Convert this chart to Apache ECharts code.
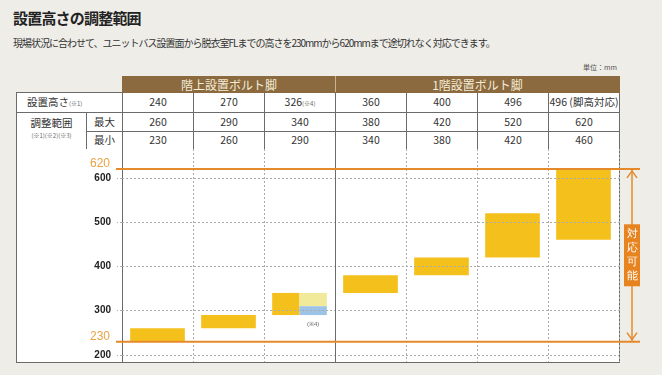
<!DOCTYPE html>
<html>
<head>
<meta charset="utf-8">
<script src="https://cdn.jsdelivr.net/npm/echarts@6/dist/echarts.min.js"></script>
<style>
    body { margin: 0; background: #eeede8; font-family: "Noto Sans CJK JP", sans-serif; color: #333; }
    #wrap { position: relative; width: 662px; height: 375px; overflow: hidden; }
    h1 { position: absolute; left: 13px; top: 10px; margin: 0; font-size: 15px; line-height: 1; letter-spacing: -0.8px; color: #222; }
    .lead { position: absolute; left: 13px; top: 38px; font-size: 10px; line-height: 1; letter-spacing: -1px; color: #333; white-space: nowrap; }
    .unit { position: absolute; right: 45px; top: 64px; font-size: 7px; line-height: 1; color: #555; }
    table { position: absolute; left: 16px; top: 76px; border-collapse: collapse; table-layout: fixed; font-size: 10.5px; }
    td { border: 1px solid #6b6b6b; background: #fff; text-align: center; padding: 0; line-height: 1; white-space: nowrap; }
    td.blank { border: none; background: none; }
    td.grp { background: #8a6a3e; color: #f5ecd8; font-size: 12px; border-color: #8a6a3e; border-right: 1px solid #c9b392; }
    td.grp:last-child { border-right-color: #8a6a3e; }
    td.rowhead { text-align: left; padding-left: 10px; }
    td.range { line-height: 1.05; vertical-align: top; padding-top: 4px; }
    small { font-size: 6px; color: #666; }
    #plotbg { position: absolute; left: 16px; top: 149px; width: 602px; height: 213px; background: #fff; border: 1px solid #6b6b6b; border-top: none; }
    #main { position: absolute; left: 0; top: 149px; width: 662px; height: 226px; }
</style>
</head>
<body>
<div id="wrap">
    <h1>設置高さの調整範囲</h1>
    <div class="lead">現場状況に合わせて、ユニットバス設置面から脱衣室FLまでの高さを230mmから620mmまで途切れなく対応できます。</div>
    <div class="unit">単位：mm</div>
    <table id="spec"></table>
    <div id="plotbg"></div>
    <div id="main"></div>
</div>
<script type="text/javascript">
    // 表と図のデータ
    var groups = ['階上設置ボルト脚', '1階設置ボルト脚'];
    var groupSizes = [3, 4];
    var heights = ['240', '270', '326', '360', '400', '496', '496'];
    var heightNotes = ['', '', '(※4)', '', '', '', ''];
    var heightSuffix = ['', '', '', '', '', '', ' (脚高対応)'];
    var maxVals = [260, 290, 340, 380, 420, 520, 620];
    var minVals = [230, 260, 290, 340, 380, 420, 460];
    var splitVals = [null, null, 310, null, null, null, null]; // ※4 の区分
    var yTicks = [200, 300, 400, 500, 600];
    var rangeVals = [620, 230];

    // 表を組み立てる
    var colW = 71;
    var html = '<colgroup><col style="width:70px"><col style="width:36px">';
    heights.forEach(function () { html += '<col style="width:' + colW + 'px">'; });
    html += '</colgroup>';
    html += '<tr style="height:16px"><td class="blank" colspan="2"></td>';
    groups.forEach(function (g, i) { html += '<td class="grp" colspan="' + groupSizes[i] + '">' + g + '</td>'; });
    html += '</tr>';
    html += '<tr style="height:20px"><td class="rowhead" colspan="2">設置高さ<small>(※1)</small></td>';
    heights.forEach(function (h, i) {
        html += '<td>' + h + heightSuffix[i] + (heightNotes[i] ? '<small>' + heightNotes[i] + '</small>' : '') + '</td>';
    });
    html += '</tr>';
    html += '<tr style="height:19px"><td class="range" rowspan="2">調整範囲<br><small>(※1)(※2)(※3)</small></td><td>最大</td>';
    maxVals.forEach(function (v) { html += '<td>' + v + '</td>'; });
    html += '</tr><tr style="height:18px"><td>最小</td>';
    minVals.forEach(function (v) { html += '<td>' + v + '</td>'; });
    html += '</tr>';
    document.getElementById('spec').innerHTML = html;

    var barColor = '#f4c01c';
    var orange = '#e58a2b';
    var gridGray = '#ababab';

    var barData = maxVals.map(function (mx, i) {
        return [i + 0.5, minVals[i], mx, splitVals[i] == null ? '-' : splitVals[i]];
    });

    function renderBar(params, api) {
        var x = api.value(0), lo = api.value(1), hi = api.value(2), split = api.value(3);
        var top = api.coord([x, hi]);
        var bottom = api.coord([x, lo]);
        var w = api.size([1, 0])[0] * 0.77;
        var left = top[0] - w / 2;
        var h = bottom[1] - top[1];
        if (isNaN(split)) {
            return { type: 'rect', shape: { x: left, y: top[1], width: w, height: h }, style: { fill: barColor } };
        }
        var mid = api.coord([x, split]);
        return {
            type: 'group',
            children: [
                { type: 'rect', shape: { x: left, y: top[1], width: w / 2, height: h }, style: { fill: barColor } },
                { type: 'rect', shape: { x: top[0], y: top[1], width: w / 2, height: mid[1] - top[1] }, style: { fill: '#f1ea9b' } },
                { type: 'rect', shape: { x: top[0], y: mid[1], width: w / 2, height: bottom[1] - mid[1] }, style: { fill: '#9dc3e6' } },
                { type: 'text', style: { text: '(※4)', x: top[0] + w / 4, y: bottom[1] + 9, fill: '#666', fontSize: 6, align: 'center', verticalAlign: 'middle' } }
            ]
        };
    }

    var myChart = echarts.init(document.getElementById('main'));
    var option = {
        animation: false,
        grid: { left: 122, right: 43, top: 0, bottom: 13 },
        xAxis: {
            type: 'value', min: 0, max: 7, interval: 1,
            axisLabel: { show: false }, axisTick: { show: false }, axisLine: { show: false },
            splitLine: { lineStyle: { color: gridGray, type: [2, 2] } }
        },
        yAxis: {
            type: 'value', min: 184, max: 665,
            axisLine: { show: true, lineStyle: { color: '#6b6b6b' } },
            axisTick: { show: true, customValues: yTicks, length: 5, lineStyle: { color: gridGray, type: [2, 2] } },
            axisLabel: { customValues: yTicks, margin: 11, color: '#222', fontSize: 10, fontWeight: 'bold' },
            splitLine: { show: false }
        },
        series: [
            {
                type: 'custom',
                renderItem: renderBar,
                data: barData,
                z: 3,
                markLine: {
                    silent: true,
                    symbol: 'none',
                    label: { show: false },
                    data: yTicks.map(function (v) {
                        return { yAxis: v, lineStyle: { color: gridGray, type: [2, 2], width: 1 } };
                    }).concat([{ xAxis: groupSizes[0], lineStyle: { color: '#6b6b6b', type: 'solid', width: 1 } }])
                }
            }
        ]
    };
    myChart.setOption(option);

    // 対応範囲の線と矢印
    var yTop = myChart.convertToPixel({ yAxisIndex: 0 }, rangeVals[0]);
    var yBot = myChart.convertToPixel({ yAxisIndex: 0 }, rangeVals[1]);
    var ax = 632;
    var midY = (yTop + yBot) / 2;
    var graphics = [];
    [yTop, yBot].forEach(function (y, i) {
        graphics.push({ type: 'line', shape: { x1: 116, y1: y, x2: 640, y2: y }, style: { stroke: orange, lineWidth: 2 }, z: 10 });
        graphics.push({ type: 'text', style: { text: String(rangeVals[i]), x: 110, y: y - 5, fill: '#e9a244', fontSize: 12, align: 'right', verticalAlign: 'middle' }, z: 10 });
    });
    graphics.push({ type: 'line', shape: { x1: ax, y1: yTop + 1, x2: ax, y2: yBot - 1 }, style: { stroke: orange, lineWidth: 1.5 }, z: 10 });
    graphics.push({ type: 'polyline', shape: { points: [[ax - 5, yTop + 9], [ax, yTop + 2], [ax + 5, yTop + 9]] }, style: { stroke: orange, lineWidth: 1.5, fill: null }, z: 10 });
    graphics.push({ type: 'polyline', shape: { points: [[ax - 5, yBot - 9], [ax, yBot - 2], [ax + 5, yBot - 9]] }, style: { stroke: orange, lineWidth: 1.5, fill: null }, z: 10 });
    graphics.push({ type: 'rect', shape: { x: ax - 8, y: midY - 31, width: 16, height: 62 }, style: { fill: '#e8841f' }, z: 11 });
    graphics.push({ type: 'text', style: { text: '対\n応\n可\n能', x: ax, y: midY, fill: '#fff', fontSize: 11, lineHeight: 14, align: 'center', verticalAlign: 'middle' }, z: 12 });
    myChart.setOption({ graphic: graphics });
</script>
</body>
</html>
